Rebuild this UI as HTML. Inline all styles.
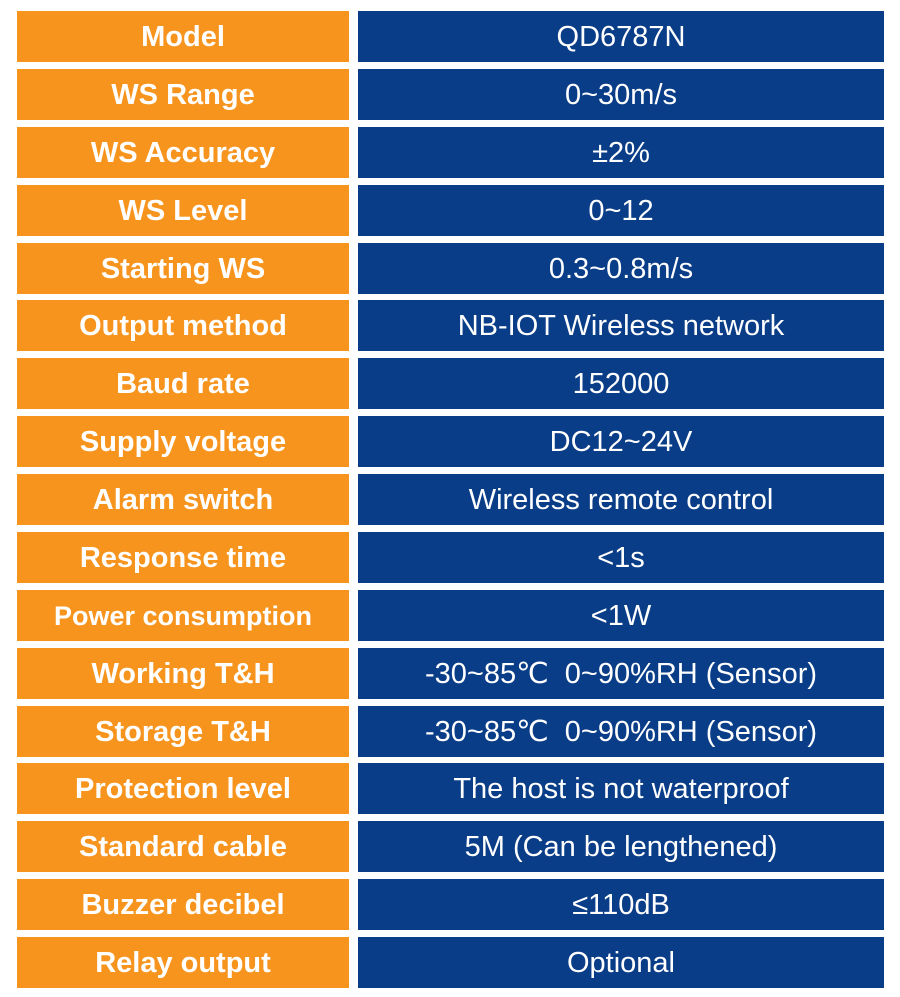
<!DOCTYPE html>
<html><head><meta charset="utf-8"><style>
body{margin:0;width:900px;height:997px;background:#fff;position:relative;overflow:hidden;font-family:"Liberation Sans","DejaVu Sans",sans-serif}
.c{position:absolute;height:51px;line-height:52px;text-align:center;color:#fff;white-space:nowrap}
.l{left:17px;width:332px;background:#F7941E;font-weight:bold;font-size:29px}
.r{left:358px;width:526px;background:#0A3D87;font-size:29px}
</style></head><body>
<script>
const labels=["Model","WS Range","WS Accuracy","WS Level","Starting WS","Output method","Baud rate","Supply voltage","Alarm switch","Response time","Power consumption","Working T&H","Storage T&H","Protection level","Standard cable","Buzzer decibel","Relay output"];
const values=["QD6787N","0~30m/s","±2%","0~12","0.3~0.8m/s","NB-IOT Wireless network","152000","DC12~24V","Wireless remote control","<1s","<1W","-30~85℃  0~90%RH (Sensor)","-30~85℃  0~90%RH (Sensor)","The host is not waterproof","5M (Can be lengthened)","≤110dB","Optional"];
labels.forEach((t,i)=>{
 const y=11+i*57.875;
 const a=document.createElement('div');a.className='c l';a.style.top=y+'px';a.textContent=t;
 if(t==="Power consumption")a.style.fontSize='27px';
 
 
 document.body.appendChild(a);
 const b=document.createElement('div');b.className='c r';b.style.top=y+'px';b.style.whiteSpace='pre';b.textContent=values[i];
 
 
 document.body.appendChild(b);
});
</script>
</body></html>
